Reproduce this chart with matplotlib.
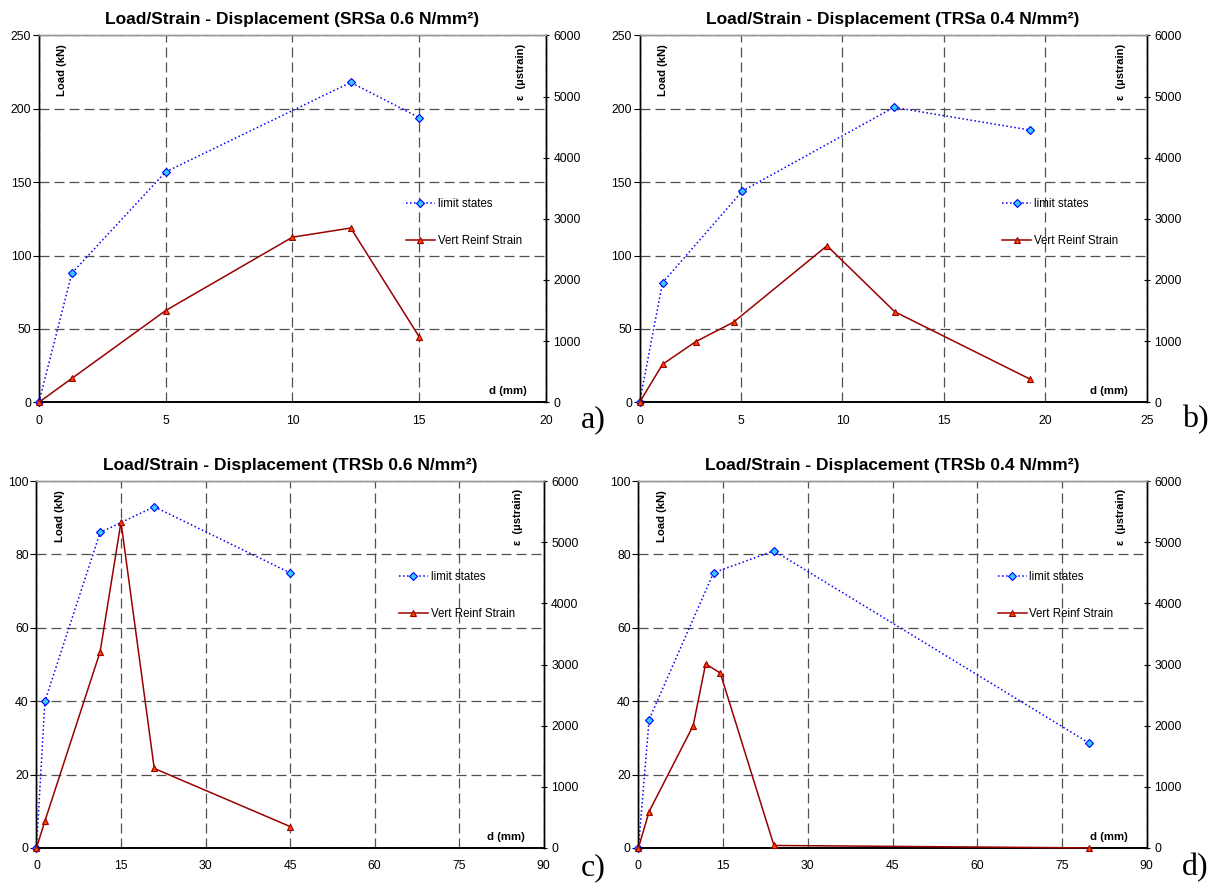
import matplotlib
matplotlib.use("Agg")
import matplotlib.pyplot as plt

plt.rcParams['font.family'] = ['Liberation Sans', 'DejaVu Sans']

# a) SRSa 0.6
d_lim_a = [0, 1.3, 5.0, 12.3, 15.0]
load_a = [0, 88, 157, 218, 194]
d_str_a = [0, 1.3, 5.0, 10.0, 12.3, 15.0]
strain_a = [0, 390, 1500, 2700, 2850, 1070]

# b) TRSa 0.4
d_lim_b = [0, 1.13, 5.07, 12.54, 19.26]
load_b = [0, 81.5, 144, 201, 185.5]
d_str_b = [0, 1.13, 2.76, 4.63, 9.24, 12.58, 19.24]
strain_b = [0, 620, 990, 1310, 2560, 1480, 380]

# c) TRSb 0.6
d_lim_c = [0, 1.5, 11.3, 20.9, 45.0]
load_c = [0, 40, 86, 93, 75]
d_str_c = [0, 1.5, 11.3, 15.0, 20.9, 45.0]
strain_c = [0, 440, 3210, 5330, 1300, 350]

# d) TRSb 0.4
d_lim_d = [0, 1.9, 13.3, 24.0, 79.8]
load_d = [0, 35, 75, 81, 28.6]
d_str_d = [0, 1.9, 9.7, 11.9, 14.5, 24.0, 79.8]
strain_d = [0, 595, 2000, 3010, 2860, 40, 0]

titles = ["Load/Strain - Displacement (SRSa 0.6 N/mm²)",
          "Load/Strain - Displacement (TRSa 0.4 N/mm²)",
          "Load/Strain - Displacement (TRSb 0.6 N/mm²)",
          "Load/Strain - Displacement (TRSb 0.4 N/mm²)"]
tags = ["a)", "b)", "c)", "d)"]

panels = [
    (d_lim_a, load_a, d_str_a, strain_a, 20, 5, 250, 50),
    (d_lim_b, load_b, d_str_b, strain_b, 25, 5, 250, 50),
    (d_lim_c, load_c, d_str_c, strain_c, 90, 15, 100, 20),
    (d_lim_d, load_d, d_str_d, strain_d, 90, 15, 100, 20),
]

# axes rectangles in figure fractions
rects = [
    [0.032, 0.546, 0.417, 0.414],
    [0.526, 0.546, 0.417, 0.414],
    [0.030, 0.043, 0.417, 0.414],
    [0.525, 0.043, 0.418, 0.414],
]
# legend anchor (upper left) per panel, axes fractions
leg_anchor = [(0.715, 0.569), (0.706, 0.569), (0.706, 0.768), (0.698, 0.768)]
tag_pos = [(0.478, 0.518), (0.972, 0.518), (0.478, 0.012), (0.972, 0.012)]

fig = plt.figure(figsize=(12.16, 8.86), dpi=100)
grid_kw = dict(color='#505050', linestyle=(0, (8, 4)), linewidth=0.9)

for i, (dl, ld, ds, st, xmax, xstep, ymax, ystep) in enumerate(panels):
    ax = fig.add_axes(rects[i])
    ax2 = ax.twinx()

    l1, = ax.plot(dl, ld, linestyle=':', color='#0000FF', linewidth=1.1,
                  marker='D', markersize=4, markerfacecolor='#33CCFF',
                  markeredgecolor='#0000FF', markeredgewidth=0.8,
                  clip_on=False, zorder=3, label='limit states')
    l2, = ax2.plot(ds, st, linestyle='-', color='#990000', linewidth=1.1,
                   marker='^', markersize=5, markerfacecolor='#FF4400',
                   markeredgecolor='#990000', markeredgewidth=0.8,
                   clip_on=False, zorder=3, label='Vert Reinf Strain')

    ax.set_xlim(0, xmax)
    ax.set_ylim(0, ymax)
    ax2.set_ylim(0, 6000)
    ax.set_xticks(range(0, xmax + 1, xstep))
    ax.set_yticks(range(0, ymax + 1, ystep))
    ax2.set_yticks(range(0, 6001, 1000))

    ax.grid(True, **grid_kw)
    ax.set_axisbelow(True)

    for a in (ax, ax2):
        a.spines['top'].set_color('#999999')
        a.spines['top'].set_linewidth(1.0)
        a.spines['left'].set_linewidth(1.0)
        a.spines['right'].set_linewidth(1.0)
        a.spines['bottom'].set_linewidth(1.2)
    ax.tick_params(axis='x', length=0, pad=9, labelsize=8.8)
    ax.tick_params(axis='y', direction='out', length=4.5, width=0.8, pad=1, labelsize=8.8)
    ax2.tick_params(axis='y', direction='inout', length=5, width=0.8, pad=3, labelsize=8.8)

    ax.set_title(titles[i], fontsize=12.5, fontweight='bold', pad=8)

    ax.text(0.046, 0.975, "Load (kN)", transform=ax.transAxes, rotation=90,
            ha='center', va='top', fontsize=8.1, fontweight='bold')
    ax.text(0.95, 0.978, "ε  (µstrain)", transform=ax.transAxes, rotation=90,
            ha='center', va='top', fontsize=8.1, fontweight='bold')
    ax.text(0.963, 0.03, "d (mm)", transform=ax.transAxes,
            ha='right', va='center', fontsize=8.2, fontweight='bold')

    ax2.legend(handles=[l1, l2], loc='upper left', bbox_to_anchor=leg_anchor[i],
               frameon=False, fontsize=8.3, handlelength=2.5, handletextpad=0.25,
               labelspacing=2.15, borderaxespad=0)

    fig.text(tag_pos[i][0], tag_pos[i][1], tags[i], fontsize=23,
             family=['Liberation Serif', 'DejaVu Serif'])

fig.savefig("out.png", dpi=100)
